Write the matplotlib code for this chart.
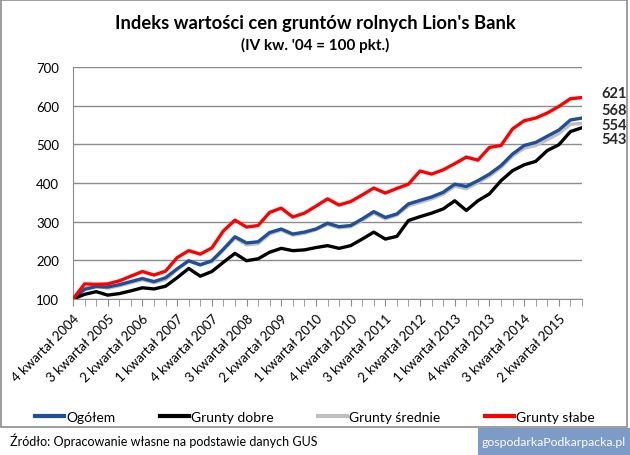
import matplotlib
matplotlib.use("Agg")
from matplotlib import pyplot as plt
from matplotlib.patches import Rectangle

# Index values, quarterly from 4 kw. 2004 to 4 kw. 2015 (IV kw. '04 = 100)
ogolem = [100, 125, 132, 131, 137, 145, 153, 145, 155, 178, 199, 188, 199, 229, 261,
          245, 248, 272, 281, 268, 273, 281, 296, 287, 290, 307, 326, 311, 320, 346,
          355, 364, 376, 397, 391, 406, 423, 445, 475, 497, 505, 521, 537, 563, 568]
dobre = [100, 112, 119, 110, 114, 121, 129, 126, 133, 155, 179, 159, 171, 195, 218,
         199, 204, 221, 231, 225, 227, 233, 238, 231, 238, 255, 273, 255, 262, 303,
         313, 322, 333, 354, 329, 354, 372, 406, 432, 447, 456, 484, 499, 533, 543]
srednie = [100, 128, 133, 128, 134, 142, 150, 142, 150, 176, 198, 190, 196, 226, 258,
           240, 243, 268, 278, 265, 270, 279, 293, 284, 287, 303, 322, 307, 317, 341,
           350, 359, 371, 392, 385, 401, 418, 440, 470, 490, 497, 512, 528, 552, 554]
slabe = [100, 139, 138, 139, 147, 159, 171, 162, 172, 207, 225, 216, 232, 276, 304,
         286, 290, 324, 335, 312, 322, 340, 359, 343, 352, 369, 387, 374, 386, 397,
         431, 423, 434, 450, 467, 459, 492, 497, 540, 561, 568, 581, 598, 618, 621]

tick_labels = ["4 kwartał 2004", "3 kwartał 2005", "2 kwartał 2006", "1 kwartał 2007",
               "4 kwartał 2007", "3 kwartał 2008", "2 kwartał 2009", "1 kwartał 2010",
               "4 kwartał 2010", "3 kwartał 2011", "2 kwartał 2012", "1 kwartał 2013",
               "4 kwartał 2013", "3 kwartał 2014", "2 kwartał 2015"]

plt.rcParams['font.family'] = ['Lato', 'DejaVu Sans']

fig = plt.figure(figsize=(6.3, 4.56), dpi=100)
W, H = 630, 456
ax = fig.add_axes([73 / W, 1 - 300 / H, (582 - 73) / W, (300 - 68) / H])

x = list(range(len(ogolem)))
lw = 2.4
ax.plot(x, srednie, color='#BFBFBF', lw=lw, zorder=3)
ax.plot(x, ogolem, color='#1F4E9A', lw=lw, zorder=4)
ax.plot(x, dobre, color='#000000', lw=lw, zorder=5)
ax.plot(x, slabe, color='#FF0000', lw=lw, zorder=6)

ax.set_xlim(0, len(x) - 1)
ax.set_ylim(100, 700)
ax.set_yticks(range(100, 701, 100))
ax.grid(axis='y', color='#8C8C8C', lw=1)
ax.set_axisbelow(True)
for s in ['top', 'right']:
    ax.spines[s].set_visible(False)
ax.spines['left'].set_color('#8C8C8C')
ax.spines['bottom'].set_color('#8C8C8C')
ax.tick_params(axis='y', length=0, labelsize=9.5, pad=10, colors='#000000')
ax.set_xticks(x, minor=True)
ax.set_xticks(x[::3])
ax.set_xticklabels(tick_labels, rotation=45, ha='right', rotation_mode='anchor', fontsize=9.5)
ax.tick_params(axis='x', which='both', length=5, color='#8C8C8C', pad=4)

# end-of-line value labels
ends = [(slabe[-1], 3), (ogolem[-1], 6), (srednie[-1], -1), (dobre[-1], -8)]
for v, dy in ends:
    ax.annotate(str(v), xy=(x[-1], v), xytext=(14, dy), textcoords='offset points',
                va='center', ha='left', fontsize=10.5, fontweight='bold', color='#262626',
                annotation_clip=False)

fig.text(0.5, 1 - 23 / H, "Indeks wartości cen gruntów rolnych Lion's Bank",
         ha='center', va='center', fontsize=13.2, fontweight='bold')
fig.text(0.5, 1 - 45 / H, "(IV kw. '04 = 100 pkt.)",
         ha='center', va='center', fontsize=11, fontweight='bold')

handles = ax.get_lines()
order = [1, 2, 0, 3]
names = ["Ogółem", "Grunty dobre", "Grunty średnie", "Grunty słabe"]
leg = fig.legend([handles[i] for i in order], names, loc='center', ncol=4,
                 bbox_to_anchor=(0.5, 1 - 418 / H), frameon=False, fontsize=10,
                 handlelength=2.1, handletextpad=0.15, columnspacing=3.2)
for h in leg.get_lines():
    h.set_linewidth(3)

fig.text(10 / W, 1 - 441 / H, "Źródło: Opracowanie własne na podstawie danych GUS",
         ha='left', va='center', fontsize=9)

# chart border and watermark box
fig.add_artist(Rectangle((1 / W, 1 - 428 / H), 626 / W, 427 / H, transform=fig.transFigure,
                         fill=False, edgecolor='#8C8C8C', lw=1.2))
fig.add_artist(Rectangle((478 / W, 0), 152 / W, 27 / H, transform=fig.transFigure,
                         facecolor='#7C9BC7', edgecolor='none'))
fig.text(554 / W, 13 / H, "gospodarkaPodkarpacka.pl", ha='center', va='center',
         fontsize=8.8, color='white')

fig.savefig("out.png", dpi=100)
